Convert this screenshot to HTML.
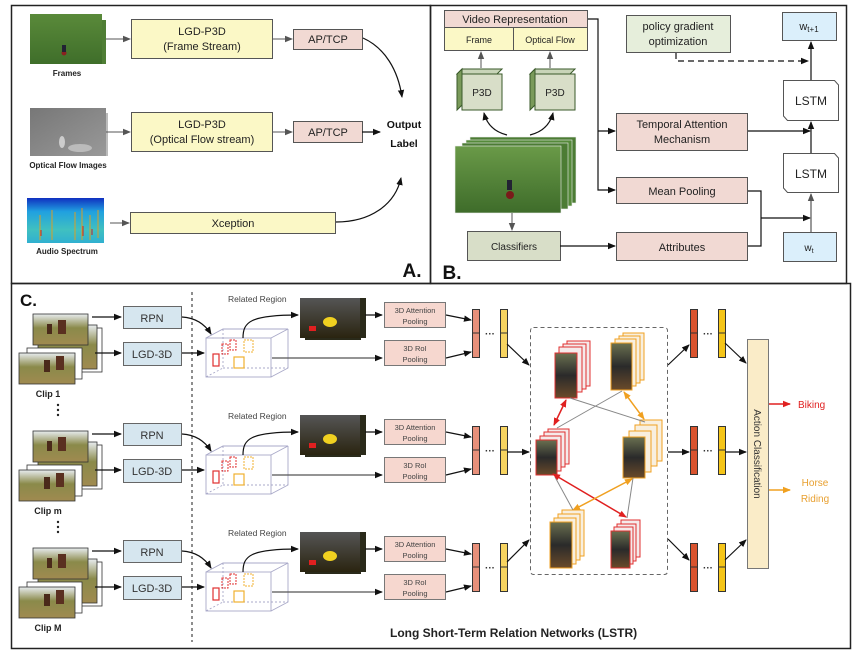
<!DOCTYPE html>
<html><head><meta charset="utf-8"><style>
html,body{margin:0;padding:0;background:#fff;}
svg{display:block;font-family:"Liberation Sans",sans-serif;}
</style></head><body>
<svg width="856" height="654" viewBox="0 0 856 654" xmlns="http://www.w3.org/2000/svg">
<defs>
<marker id="ah" markerWidth="8" markerHeight="8" refX="7" refY="4" orient="auto" markerUnits="userSpaceOnUse"><path d="M0,0.8 L8,4 L0,7.2z" fill="#111"/></marker>
<marker id="ag" markerWidth="8" markerHeight="8" refX="7" refY="4" orient="auto" markerUnits="userSpaceOnUse"><path d="M0,0.8 L8,4 L0,7.2z" fill="#555"/></marker>
<marker id="ar" markerWidth="8" markerHeight="8" refX="7" refY="4" orient="auto-start-reverse" markerUnits="userSpaceOnUse"><path d="M0,0.8 L8,4 L0,7.2z" fill="#e02020"/></marker>
<marker id="ao" markerWidth="8" markerHeight="8" refX="7" refY="4" orient="auto-start-reverse" markerUnits="userSpaceOnUse"><path d="M0,0.8 L8,4 L0,7.2z" fill="#f0a020"/></marker>
<linearGradient id="grass" x1="0" y1="0" x2="0" y2="1"><stop offset="0" stop-color="#5a8a3a"/><stop offset="1" stop-color="#3f6e2a"/></linearGradient>
<linearGradient id="grassb" x1="0" y1="0" x2="0" y2="1"><stop offset="0" stop-color="#6a9a48"/><stop offset="1" stop-color="#3e6c2a"/></linearGradient>
<linearGradient id="flow" x1="0" y1="0" x2="1" y2="1"><stop offset="0" stop-color="#777"/><stop offset="1" stop-color="#999"/></linearGradient>
<linearGradient id="spec" x1="0" y1="0" x2="0" y2="1"><stop offset="0" stop-color="#1030c0"/><stop offset="0.3" stop-color="#20a0e0"/><stop offset="0.7" stop-color="#40c0c0"/><stop offset="1" stop-color="#30b0d0"/></linearGradient>
<linearGradient id="photo" x1="0" y1="0" x2="0" y2="1"><stop offset="0" stop-color="#e8ecef"/><stop offset="0.45" stop-color="#8a8a4a"/><stop offset="1" stop-color="#a08a50"/></linearGradient>
<linearGradient id="heat" x1="0" y1="0" x2="0" y2="1"><stop offset="0" stop-color="#555"/><stop offset="1" stop-color="#2a2410"/></linearGradient>
<linearGradient id="pers" x1="0" y1="0" x2="0" y2="1"><stop offset="0" stop-color="#6a7050"/><stop offset="0.5" stop-color="#2a2a2a"/><stop offset="1" stop-color="#6a4a2a"/></linearGradient>
</defs>

<rect x="11.5" y="5.5" width="419" height="278" fill="none" stroke="#222" stroke-width="1.5"/>
<rect x="430.5" y="5.5" width="416" height="278" fill="none" stroke="#222" stroke-width="1.5"/>
<rect x="11.5" y="283.5" width="839" height="365" fill="none" stroke="#222" stroke-width="1.5"/>

<!-- ===== Panel A ===== -->
<g>
<rect x="40" y="20" width="66" height="44" fill="#4f7e35"/>
<rect x="36" y="17" width="66" height="44" fill="#568a3a"/>
<rect x="30" y="14" width="72" height="50" fill="url(#grass)"/>
<circle cx="64" cy="53" r="2.5" fill="#8a2020"/><rect x="62" y="45" width="4" height="7" fill="#223"/>
<text x="67" y="76" font-size="8" font-weight="bold" text-anchor="middle" fill="#222">Frames</text>
<line x1="106" y1="39" x2="130" y2="39" stroke="#555" marker-end="url(#ag)"/>
<rect x="131.5" y="19.5" width="141" height="39" fill="#fbf8c6" stroke="#555"/>
<text x="202" y="35" font-size="11" text-anchor="middle" fill="#222">LGD-P3D</text>
<text x="202" y="50" font-size="11" text-anchor="middle" fill="#222">(Frame Stream)</text>
<line x1="272" y1="39" x2="292" y2="39" stroke="#555" marker-end="url(#ag)"/>
<rect x="293.5" y="29.5" width="69" height="20" fill="#f1d9d3" stroke="#555"/>
<text x="328" y="43" font-size="11" text-anchor="middle" fill="#222">AP/TCP</text>
<path d="M363,38 C385,48 398,70 402,97" fill="none" stroke="#111" stroke-width="1.2" marker-end="url(#ah)"/>

<rect x="38" y="113" width="70" height="43" fill="#bbb"/>
<rect x="34" y="110" width="70" height="44" fill="#999"/>
<rect x="30" y="108" width="76" height="48" fill="url(#flow)"/>
<ellipse cx="62" cy="142" rx="3" ry="6" fill="#ccc"/><ellipse cx="80" cy="148" rx="12" ry="4" fill="#bbb"/>
<text x="68" y="168" font-size="8" font-weight="bold" text-anchor="middle" fill="#222">Optical Flow Images</text>
<line x1="106" y1="132" x2="130" y2="132" stroke="#555" marker-end="url(#ag)"/>
<rect x="131.5" y="112.5" width="141" height="39" fill="#fbf8c6" stroke="#555"/>
<text x="202" y="128" font-size="11" text-anchor="middle" fill="#222">LGD-P3D</text>
<text x="202" y="143" font-size="11" text-anchor="middle" fill="#222">(Optical Flow stream)</text>
<line x1="272" y1="132" x2="292" y2="132" stroke="#555" marker-end="url(#ag)"/>
<rect x="293.5" y="121.5" width="69" height="21" fill="#f1d9d3" stroke="#555"/>
<text x="328" y="136" font-size="11" text-anchor="middle" fill="#222">AP/TCP</text>
<line x1="362" y1="132" x2="380" y2="132" stroke="#111" stroke-width="1.2" marker-end="url(#ah)"/>
<text x="404" y="128" font-size="10.5" font-weight="bold" text-anchor="middle" fill="#111">Output</text>
<text x="404" y="147" font-size="10.5" font-weight="bold" text-anchor="middle" fill="#111">Label</text>

<rect x="27" y="198" width="77" height="45" fill="url(#spec)"/>
<g stroke="#e0a020" stroke-width="1.2" opacity="0.8">
<line x1="40" y1="215" x2="40" y2="240"/><line x1="52" y1="210" x2="52" y2="240"/><line x1="75" y1="212" x2="75" y2="240"/><line x1="82" y1="208" x2="82" y2="240"/><line x1="90" y1="215" x2="90" y2="240"/><line x1="98" y1="210" x2="98" y2="238"/>
</g>
<g stroke="#d02020" stroke-width="1"><line x1="41" y1="230" x2="41" y2="236"/><line x1="83" y1="226" x2="83" y2="236"/><line x1="92" y1="229" x2="92" y2="235"/></g>
<text x="67" y="254" font-size="8" font-weight="bold" text-anchor="middle" fill="#222">Audio Spectrum</text>
<line x1="110" y1="223" x2="129" y2="223" stroke="#555" marker-end="url(#ag)"/>
<rect x="130.5" y="212.5" width="205" height="21" fill="#fbf8c6" stroke="#555"/>
<text x="233" y="227" font-size="11" text-anchor="middle" fill="#222">Xception</text>
<path d="M336,222 C370,222 395,205 401,178" fill="none" stroke="#111" stroke-width="1.2" marker-end="url(#ah)"/>
<text x="412" y="277" font-size="19" font-weight="bold" text-anchor="middle" fill="#111">A.</text>
</g>

<!-- ===== Panel B ===== -->
<g>
<rect x="444.5" y="10.5" width="143" height="17" fill="#f1d9d3" stroke="#555"/>
<text x="515" y="23" font-size="11" text-anchor="middle" fill="#222">Video Representation</text>
<rect x="444.5" y="27.5" width="69" height="23" fill="#fbf8c6" stroke="#555"/>
<rect x="513.5" y="27.5" width="74" height="23" fill="#fbf8c6" stroke="#555"/>
<text x="479" y="43" font-size="9" text-anchor="middle" fill="#222">Frame</text>
<text x="550" y="43" font-size="9" text-anchor="middle" fill="#222">Optical Flow</text>
<line x1="481" y1="68" x2="481" y2="52" stroke="#555" marker-end="url(#ag)"/>
<line x1="550" y1="68" x2="550" y2="52" stroke="#555" marker-end="url(#ag)"/>
<g stroke="#3a5a2a" stroke-width="1">
<path d="M457,74 L462,69 L502,69 L497,74z" fill="#c8d4b8"/><path d="M457,74 L462,69 L462,105 L457,110z" fill="#7a9a5a"/>
<rect x="462" y="74" width="40" height="36" fill="#d8dec8"/>
<path d="M530,74 L535,69 L575,69 L570,74z" fill="#c8d4b8"/><path d="M530,74 L535,69 L535,105 L530,110z" fill="#7a9a5a"/>
<rect x="535" y="74" width="40" height="36" fill="#d8dec8"/>
</g>
<text x="482" y="96" font-size="10" text-anchor="middle" fill="#222">P3D</text>
<text x="555" y="96" font-size="10" text-anchor="middle" fill="#222">P3D</text>
<path d="M507,135 C495,132 487,125 484,113" fill="none" stroke="#111" stroke-width="1.2" marker-end="url(#ah)"/>
<path d="M530,135 C542,132 550,125 553,113" fill="none" stroke="#111" stroke-width="1.2" marker-end="url(#ah)"/>
<rect x="470" y="137" width="106" height="66" fill="#4c7c34" stroke="#eee" stroke-width="0.6"/>
<rect x="466" y="140" width="106" height="66" fill="#558a3a" stroke="#eee" stroke-width="0.6"/>
<rect x="462" y="143" width="106" height="66" fill="#4c7c34" stroke="#eee" stroke-width="0.6"/>
<rect x="455" y="146" width="106" height="67" fill="url(#grassb)" stroke="#eee" stroke-width="0.6"/>
<rect x="507" y="180" width="5" height="10" fill="#223"/><circle cx="510" cy="195" r="4" fill="#7a1a1a"/>
<line x1="512" y1="213" x2="512" y2="230" stroke="#555" marker-end="url(#ag)"/>
<rect x="467.5" y="231.5" width="93" height="29" fill="#d8dec8" stroke="#555"/>
<text x="514" y="250" font-size="10" text-anchor="middle" fill="#222">Classifiers</text>
<line x1="560" y1="246" x2="615" y2="246" stroke="#111" stroke-width="1.2" marker-end="url(#ah)"/>
<path d="M588,19 L598,19 L598,190 L615,190" fill="none" stroke="#111" stroke-width="1.2" marker-end="url(#ah)"/>
<line x1="598" y1="131" x2="615" y2="131" stroke="#111" stroke-width="1.2" marker-end="url(#ah)"/>
<rect x="616.5" y="113.5" width="131" height="37" fill="#f1d9d3" stroke="#555"/>
<text x="682" y="128" font-size="11" text-anchor="middle" fill="#222">Temporal Attention</text>
<text x="682" y="143" font-size="11" text-anchor="middle" fill="#222">Mechanism</text>
<rect x="616.5" y="177.5" width="131" height="26" fill="#f1d9d3" stroke="#555"/>
<text x="682" y="195" font-size="11" text-anchor="middle" fill="#222">Mean Pooling</text>
<rect x="616.5" y="232.5" width="131" height="28" fill="#f1d9d3" stroke="#555"/>
<text x="682" y="251" font-size="11" text-anchor="middle" fill="#222">Attributes</text>
<path d="M748,191 L761,191 L761,246 L748,246" fill="none" stroke="#111" stroke-width="1.2"/>
<line x1="761" y1="218" x2="810" y2="218" stroke="#111" stroke-width="1.2" marker-end="url(#ah)"/>
<line x1="748" y1="131" x2="810" y2="131" stroke="#111" stroke-width="1.2" marker-end="url(#ah)"/>
<rect x="626.5" y="15.5" width="104" height="37" fill="#e6eedb" stroke="#555"/>
<text x="678" y="30" font-size="11" text-anchor="middle" fill="#222">policy gradient</text>
<text x="678" y="45" font-size="11" text-anchor="middle" fill="#222">optimization</text>
<path d="M676,53 L676,61 L808,61" fill="none" stroke="#111" stroke-width="1.2" stroke-dasharray="6,4" marker-end="url(#ah)"/>
<rect x="782.5" y="12.5" width="54" height="28" fill="#dbeffb" stroke="#555"/>
<text x="809" y="30" font-size="11" text-anchor="middle" fill="#222">w<tspan font-size="8" dy="2">t+1</tspan></text>
<line x1="811" y1="80" x2="811" y2="42" stroke="#111" stroke-width="1.2" marker-end="url(#ah)"/>
<path d="M783.5,80.5 L834.5,80.5 L838.5,85 L838.5,120.5 L787.5,120.5 L783.5,116z" fill="#fff" stroke="#555"/>
<text x="811" y="105" font-size="12" text-anchor="middle" fill="#222">LSTM</text>
<line x1="811" y1="153" x2="811" y2="122" stroke="#111" stroke-width="1.2" marker-end="url(#ah)"/>
<path d="M783.5,153.5 L834.5,153.5 L838.5,158 L838.5,192.5 L787.5,192.5 L783.5,188z" fill="#fff" stroke="#555"/>
<text x="811" y="178" font-size="12" text-anchor="middle" fill="#222">LSTM</text>
<line x1="811" y1="232" x2="811" y2="194" stroke="#555" stroke-width="1.2" marker-end="url(#ag)"/>
<rect x="783.5" y="232.5" width="53" height="29" fill="#dbeffb" stroke="#555"/>
<text x="809" y="251" font-size="10" text-anchor="middle" fill="#222">w<tspan font-size="7" dy="2">t</tspan></text>
<text x="452" y="279" font-size="19" font-weight="bold" text-anchor="middle" fill="#111">B.</text>
</g>

<!-- ===== Panel C ===== -->
<text x="20" y="306" font-size="17" font-weight="bold" fill="#111">C.</text>
<line x1="192" y1="292" x2="192" y2="642" stroke="#444" stroke-width="1.2" stroke-dasharray="3,3"/>
<text x="390" y="637" font-size="12" font-weight="bold" fill="#222">Long Short-Term Relation Networks (LSTR)</text>

<g id="row1">
<rect x="43" y="328" width="59" height="44" fill="#fff" stroke="#333" stroke-width="0.8"/>
<rect x="38" y="325" width="59" height="44" fill="url(#photo)" stroke="#333" stroke-width="0.8"/>
<rect x="33" y="314" width="55" height="31" fill="url(#photo)" stroke="#333" stroke-width="0.8"/>
<rect x="27" y="348" width="55" height="31" fill="#fff" stroke="#333" stroke-width="0.8"/>
<rect x="19" y="353" width="56" height="31" fill="url(#photo)" stroke="#333" stroke-width="0.8"/>
<rect x="44" y="360" width="6" height="12" fill="#4a2a1a"/><rect x="56" y="356" width="8" height="14" fill="#5a3020"/>
<rect x="58" y="320" width="8" height="14" fill="#5a3020"/><rect x="47" y="324" width="5" height="10" fill="#4a2a1a"/>
<line x1="92" y1="317" x2="121" y2="317" stroke="#111" stroke-width="1.2" marker-end="url(#ah)"/>
<line x1="95" y1="353" x2="121" y2="353" stroke="#111" stroke-width="1.2" marker-end="url(#ah)"/>
<rect x="123.5" y="306.5" width="58" height="22" fill="#d6e6ef" stroke="#666"/>
<text x="152" y="322" font-size="11" text-anchor="middle" fill="#333">RPN</text>
<rect x="123.5" y="342.5" width="58" height="23" fill="#d6e6ef" stroke="#666"/>
<text x="152" y="358" font-size="11" text-anchor="middle" fill="#333">LGD-3D</text>
<path d="M182,317 C198,318 206,326 211,334" fill="none" stroke="#111" stroke-width="1.2" marker-end="url(#ah)"/>
<line x1="182" y1="353" x2="204" y2="353" stroke="#111" stroke-width="1.2" marker-end="url(#ah)"/>
<g fill="none" stroke="#a8a8c8" stroke-width="0.9">
<rect x="206" y="338" width="65" height="39" fill="#fff"/>
<path d="M206,338 L223,329 L288,329 L271,338 M288,329 L288,368 L271,377"/>
<path d="M223,329 L223,368 L206,377 M223,368 L288,368" stroke-dasharray="2,2"/>
</g>
<rect x="213" y="354" width="6" height="12" fill="none" stroke="#e03030" stroke-width="1.2"/>
<rect x="222" y="344" width="6" height="10" fill="none" stroke="#e03030" stroke-width="1" stroke-dasharray="2,1"/>
<rect x="230" y="340" width="6" height="10" fill="none" stroke="#e03030" stroke-width="1" stroke-dasharray="2,1"/>
<rect x="234" y="357" width="10" height="11" fill="none" stroke="#f0b030" stroke-width="1.2"/>
<rect x="244" y="340" width="9" height="12" fill="none" stroke="#f0b030" stroke-width="1" stroke-dasharray="2,1"/>
<line x1="272" y1="358" x2="382" y2="358" stroke="#555" stroke-width="1.2" marker-end="url(#ah)"/>
<path d="M243,338 C243,322 250,315 298,315" fill="none" stroke="#111" stroke-width="1.2" marker-end="url(#ah)"/>
<text x="228" y="302" font-size="8.5" fill="#444">Related Region</text>
<rect x="310" y="298" width="56" height="40" fill="#2a2a1a"/>
<rect x="305" y="300" width="56" height="40" fill="#2a2a1a"/>
<rect x="300" y="298" width="60" height="40" fill="url(#heat)"/>
<ellipse cx="330" cy="322" rx="7" ry="5" fill="#f0d020"/>
<rect x="309" y="326" width="7" height="5" fill="#e02020"/>
<line x1="365" y1="315" x2="382" y2="315" stroke="#111" stroke-width="1.2" marker-end="url(#ah)"/>
<rect x="384.5" y="302.5" width="61" height="25" fill="#f6d7cf" stroke="#777"/>
<text x="415" y="313" font-size="7.5" text-anchor="middle" fill="#444">3D Attention</text>
<text x="415" y="324" font-size="7.5" text-anchor="middle" fill="#444">Pooling</text>
<rect x="384.5" y="340.5" width="61" height="25" fill="#f6d7cf" stroke="#777"/>
<text x="415" y="351" font-size="7.5" text-anchor="middle" fill="#444">3D RoI</text>
<text x="415" y="362" font-size="7.5" text-anchor="middle" fill="#444">Pooling</text>
<line x1="446" y1="315" x2="471" y2="320" stroke="#111" stroke-width="1.2" marker-end="url(#ah)"/>
<line x1="446" y1="358" x2="471" y2="352" stroke="#111" stroke-width="1.2" marker-end="url(#ah)"/>
<rect x="472.5" y="309.5" width="7" height="48" fill="#e8907a" stroke="#333"/><line x1="472" y1="333" x2="480" y2="333" stroke="#333"/>
<text x="490" y="337" font-size="10" font-weight="bold" text-anchor="middle" fill="#333">···</text>
<rect x="500.5" y="309.5" width="7" height="48" fill="#f7d460" stroke="#333"/><line x1="500" y1="333" x2="508" y2="333" stroke="#333"/>
<rect x="690.5" y="309.5" width="7" height="48" fill="#d9532e" stroke="#333"/><line x1="690" y1="333" x2="698" y2="333" stroke="#333"/>
<text x="708" y="337" font-size="10" font-weight="bold" text-anchor="middle" fill="#333">···</text>
<rect x="718.5" y="309.5" width="7" height="48" fill="#f5c518" stroke="#333"/><line x1="718" y1="333" x2="726" y2="333" stroke="#333"/>
</g>
<g transform="translate(0,117)"><use href="#row1"/></g>
<g transform="translate(0,234)"><use href="#row1"/></g>
<text x="48" y="397" font-size="9" font-weight="bold" text-anchor="middle" fill="#222">Clip 1</text>
<text x="48" y="514" font-size="9" font-weight="bold" text-anchor="middle" fill="#222">Clip m</text>
<text x="48" y="631" font-size="9" font-weight="bold" text-anchor="middle" fill="#222">Clip M</text>
<g fill="#222"><circle cx="58" cy="405" r="1.2"/><circle cx="58" cy="410" r="1.2"/><circle cx="58" cy="415" r="1.2"/>
<circle cx="58" cy="522" r="1.2"/><circle cx="58" cy="527" r="1.2"/><circle cx="58" cy="532" r="1.2"/></g>

<g stroke="#111" stroke-width="1.2">
<line x1="507" y1="344" x2="529" y2="365" marker-end="url(#ah)"/>
<line x1="507" y1="452" x2="529" y2="452" marker-end="url(#ah)"/>
<line x1="507" y1="562" x2="529" y2="540" marker-end="url(#ah)"/>
<line x1="668" y1="365" x2="689" y2="345" marker-end="url(#ah)"/>
<line x1="668" y1="452" x2="689" y2="452" marker-end="url(#ah)"/>
<line x1="668" y1="539" x2="689" y2="560" marker-end="url(#ah)"/>
<line x1="725" y1="343" x2="746" y2="363" marker-end="url(#ah)"/>
<line x1="725" y1="452" x2="746" y2="452" marker-end="url(#ah)"/>
<line x1="725" y1="560" x2="746" y2="540" marker-end="url(#ah)"/>
</g>
<rect x="530.5" y="327.5" width="137" height="247" rx="3" fill="none" stroke="#666" stroke-dasharray="4,3"/>

<g stroke-width="1">
<g stroke="#e03030" fill="#f5eaea">
<rect x="567" y="341" width="23" height="45"/><rect x="563" y="344" width="23" height="45"/><rect x="559" y="347" width="23" height="45"/>
</g>
<rect x="555" y="353" width="22" height="45" fill="url(#pers)" stroke="#e03030"/>
<g stroke="#f0a020" fill="#f8efdf">
<rect x="623" y="333" width="21" height="47"/><rect x="619" y="336" width="21" height="47"/><rect x="615" y="339" width="21" height="47"/>
</g>
<rect x="611" y="343" width="21" height="47" fill="url(#pers)" stroke="#f0a020"/>
<g stroke="#e03030" fill="#f5eaea">
<rect x="548" y="429" width="21" height="35"/><rect x="544" y="432" width="21" height="35"/><rect x="540" y="436" width="21" height="35"/>
</g>
<rect x="536" y="440" width="21" height="35" fill="url(#pers)" stroke="#e03030"/>
<g stroke="#f0a020" fill="#f8efdf">
<rect x="640" y="420" width="22" height="41"/><rect x="635" y="425" width="22" height="41"/><rect x="629" y="431" width="22" height="41"/>
</g>
<rect x="623" y="437" width="22" height="41" fill="url(#pers)" stroke="#f0a020"/>
<g stroke="#f0a020" fill="#f8efdf">
<rect x="562" y="510" width="22" height="46"/><rect x="558" y="514" width="22" height="46"/><rect x="554" y="518" width="22" height="46"/>
</g>
<rect x="550" y="522" width="22" height="46" fill="url(#pers)" stroke="#f0a020"/>
<g stroke="#e03030" fill="#f5eaea">
<rect x="621" y="520" width="19" height="37"/><rect x="617" y="524" width="19" height="37"/><rect x="614" y="527" width="19" height="37"/>
</g>
<rect x="611" y="531" width="19" height="37" fill="url(#pers)" stroke="#e03030"/>
</g>
<g stroke-width="1">
<line x1="570" y1="398" x2="645" y2="422" stroke="#888"/>
<line x1="622" y1="391" x2="557" y2="428" stroke="#888"/>
<line x1="555" y1="477" x2="573" y2="510" stroke="#888"/>
<line x1="633" y1="478" x2="627" y2="518" stroke="#888"/>
<line x1="566" y1="400" x2="554" y2="425" stroke="#e02020" stroke-width="1.5" marker-start="url(#ar)" marker-end="url(#ar)"/>
<line x1="624" y1="392" x2="644" y2="419" stroke="#f0a020" stroke-width="1.5" marker-start="url(#ao)" marker-end="url(#ao)"/>
<line x1="553" y1="474" x2="626" y2="517" stroke="#e02020" stroke-width="1.5" marker-start="url(#ar)" marker-end="url(#ar)"/>
<line x1="632" y1="479" x2="573" y2="510" stroke="#f0a020" stroke-width="1.5" marker-start="url(#ao)" marker-end="url(#ao)"/>
</g>

<rect x="747.5" y="339.5" width="21" height="229" fill="#faecc8" stroke="#777"/>
<text transform="translate(754,454) rotate(90)" font-size="10" text-anchor="middle" fill="#333">Action Classification</text>
<line x1="769" y1="404" x2="790" y2="404" stroke="#e02020" stroke-width="1.5" marker-end="url(#ar)"/>
<text x="798" y="408" font-size="10" fill="#e02020">Biking</text>
<line x1="769" y1="490" x2="790" y2="490" stroke="#f0a020" stroke-width="1.5" marker-end="url(#ao)"/>
<text x="815" y="486" font-size="10" text-anchor="middle" fill="#e8a030">Horse</text>
<text x="815" y="502" font-size="10" text-anchor="middle" fill="#e8a030">Riding</text>
</svg>
</body></html>
